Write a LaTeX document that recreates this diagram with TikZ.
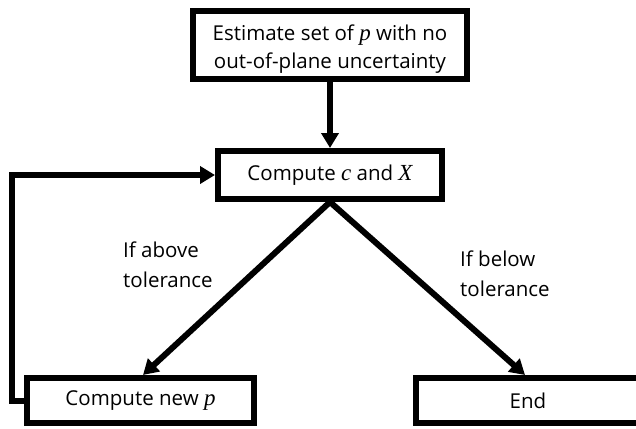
\documentclass[tikz,border=0pt]{standalone}
\usepackage{fontspec}
\setmainfont{Open Sans}
\newfontfamily\cambriafam{Liberation Serif}
\newcommand\mv[1]{{\cambriafam\itshape\fontsize{23}{28}\selectfont #1}}
\usetikzlibrary{arrows.meta,calc}
\begin{document}
\begin{tikzpicture}[x=1pt,y=-1pt,
  box/.style={draw=black,line width=6pt,fill=white,inner sep=0pt,align=center,
    font=\fontsize{20.5}{28}\selectfont},
  conn/.style={line width=6pt,-{Triangle[length=15pt,width=17pt]}},
  lbl/.style={inner sep=0pt,align=left,anchor=west,font=\fontsize{20.5}{30}\selectfont}]
\clip (0,0) rectangle (636,428);
\fill[white] (0,0) rectangle (636,428);
\node[box,minimum width=274pt,minimum height=68pt] (est) at (330,45)
  {\rule{0pt}{23pt}Estimate set of \mv{p} with no\\out-of-plane uncertainty};
\node[box,minimum width=224pt,minimum height=48pt] (mid) at (330,175)
  {Compute \mv{c} and \mv{X}};
\node[box,minimum width=227pt,minimum height=45pt] (newp) at (140.5,400.5)
  {Compute new \mv{p}};
\node[box,minimum width=227pt,minimum height=45pt] (endb) at (529.5,400.5)
  {\hspace*{-3pt}End};
\coordinate (fbx) at (12,0);
\node[lbl] (la) at (123,265) {If above\\tolerance};
\node[lbl] (lb) at (460,274) {If below\\tolerance};
\draw[conn] (est.south) -- (mid.north);
\draw[conn] (mid.south) -- ($(newp.north)+(2.5,0)$);
\draw[conn] (mid.south) -- ($(endb.north)+(-4.5,0)$);
\draw[conn] (newp.west) -- (newp.west -| fbx) |- (mid.west);
\end{tikzpicture}
\end{document}
